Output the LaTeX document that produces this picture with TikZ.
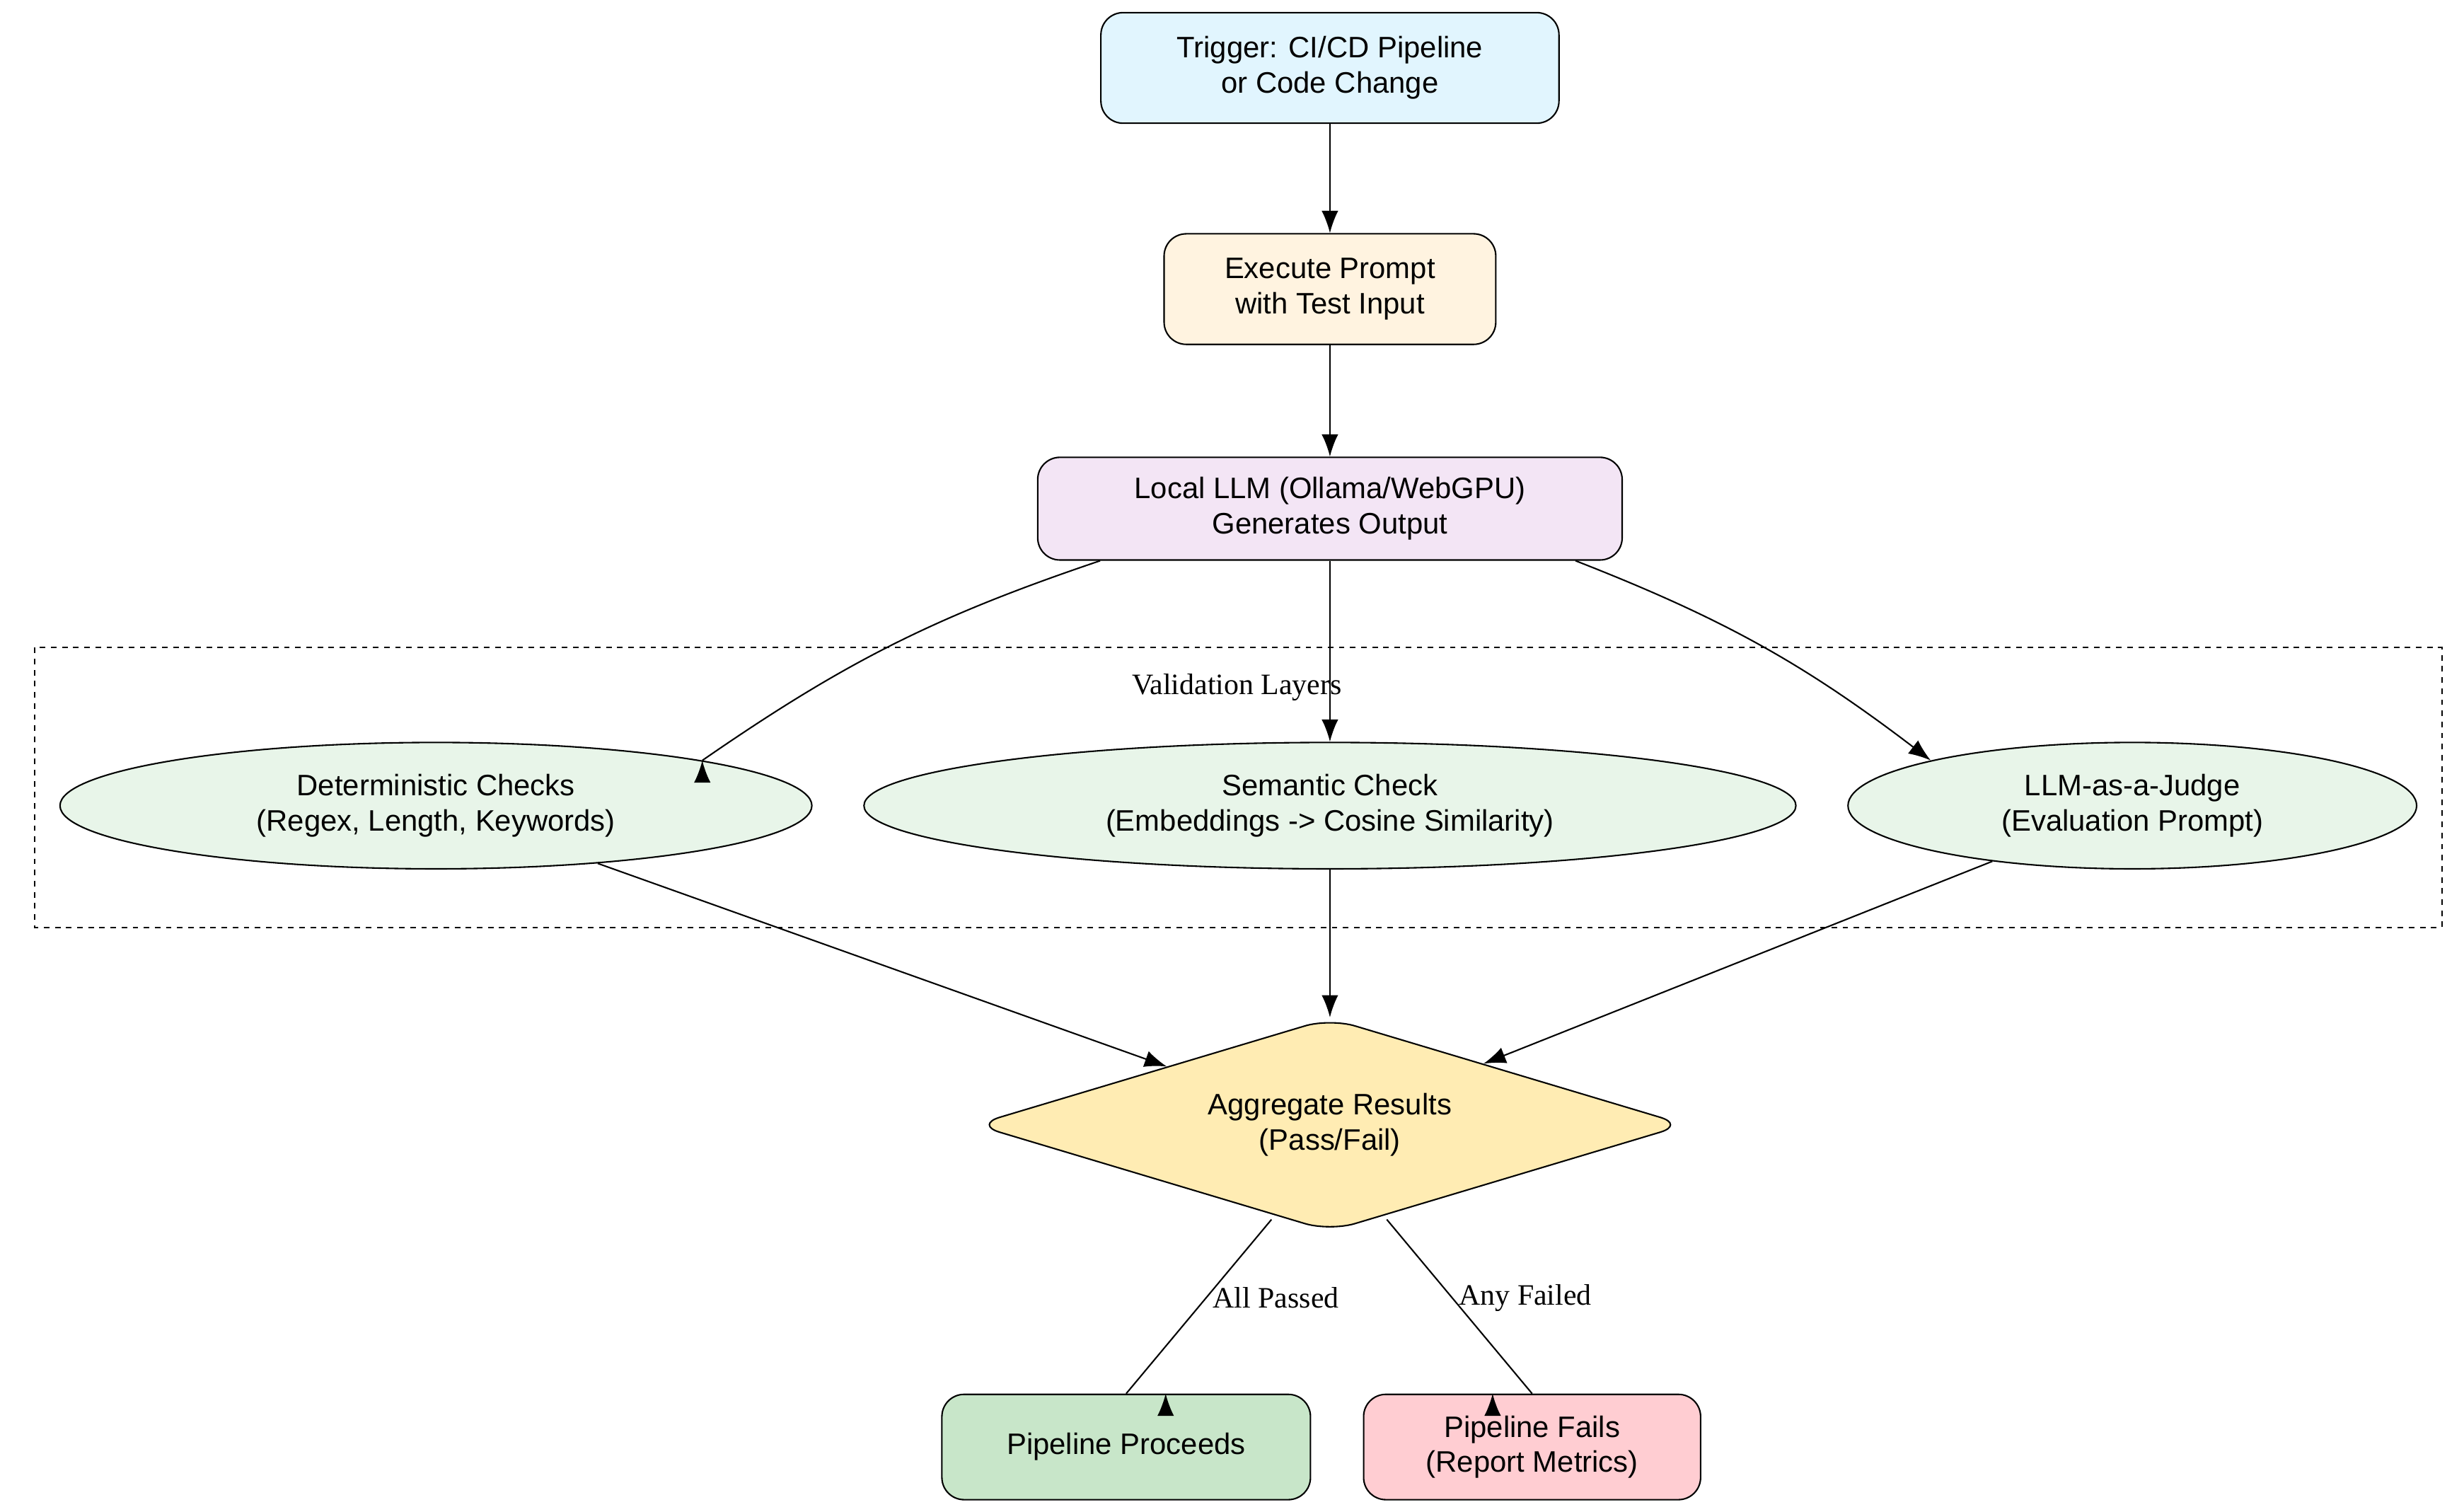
\documentclass[tikz,border=0pt]{standalone}
\usepackage{fontspec}
\setmainfont{Liberation Serif}
\setsansfont{Liberation Sans}
\usetikzlibrary{positioning,shapes.geometric,arrows.meta}
\definecolor{trigfill}{HTML}{E1F5FE}
\definecolor{execfill}{HTML}{FFF3E0}
\definecolor{llmfill}{HTML}{F3E5F5}
\definecolor{checkfill}{HTML}{E8F5E9}
\definecolor{aggfill}{HTML}{FFECB3}
\definecolor{passfill}{HTML}{C8E6C9}
\definecolor{failfill}{HTML}{FFCDD2}
\tikzset{
  box/.style={draw, thick, rounded corners=12pt, align=center, font=\sffamily\fontsize{16}{19}\selectfont},
  check/.style={draw, thick, ellipse, align=center, fill=checkfill, minimum height=2.4cm, font=\sffamily\fontsize{16}{19}\selectfont},
  arr/.style={thick, -{Latex[length=12pt,width=9pt]}},
  lbl/.style={font=\fontsize{16}{19}\selectfont}
}
\begin{document}
\begin{tikzpicture}[x=0.03cm,y=-0.03cm]
\useasboundingbox (0,0) rectangle (1560,957);
\node[box, fill=trigfill, minimum width=8.7cm, minimum height=2.1cm] (trig) at (842,43) {Trigger: CI/CD Pipeline\\or Code Change};
\node[box, fill=execfill, minimum width=6.3cm, minimum height=2.1cm] (exec) at (842,183) {Execute Prompt\\with Test Input};
\node[box, fill=llmfill, minimum width=11.1cm, minimum height=1.95cm] (llm) at (842,322) {Local LLM (Ollama/WebGPU)\\Generates Output};
% validation layers
\draw[thick, dashed] (22,410) rectangle (1546,587);
\node[lbl] (layers) at (783,435) {Validation Layers};
\node[check, minimum width=14.28cm] (det) at (276,510) {Deterministic Checks\\(Regex, Length, Keywords)};
\node[check, minimum width=17.7cm] (sem) at (842,510) {Semantic Check\\(Embeddings -> Cosine Similarity)};
\node[check, minimum width=10.8cm] (judge) at (1350,510) {LLM-as-a-Judge\\(Evaluation Prompt)};
\node[draw, thick, diamond, aspect=3.33, inner sep=0pt, rounded corners=14pt, fill=aggfill, minimum width=13.5cm, minimum height=4.05cm, align=center, font=\sffamily\fontsize{16}{19}\selectfont] (agg) at (842,712) {Aggregate Results\\(Pass/Fail)};
\node[box, fill=passfill, minimum width=7cm, minimum height=2cm] (pass) at (713,916) {Pipeline Proceeds};
\node[box, fill=failfill, minimum width=6.4cm, minimum height=2cm] (fail) at (970,916) {Pipeline Fails\\(Report Metrics)};
\draw[arr] (trig) -- (exec);
\draw[arr] (exec) -- (llm);
\draw[arr] (llm.south west) ++(40,0) to[bend right=8] (det.north east) ++(0,0);
\draw[arr] (llm) -- (sem);
\draw[arr] (llm.south east) ++(-30,0) to[bend left=8] (judge.north west);
\draw[arr] (det) -- (agg);
\draw[arr] (sem) -- (agg);
\draw[arr] (judge) -- (agg);
\draw[arr] (agg.south) ++(-37,-8) -- node[lbl, right, pos=0.45] {All Passed} (pass.north) ++(25,0);
\draw[arr] (agg.south) ++(36,-8) -- node[lbl, right, pos=0.45] {Any Failed} (fail.north) ++(-25,0);
\end{tikzpicture}
\end{document}
